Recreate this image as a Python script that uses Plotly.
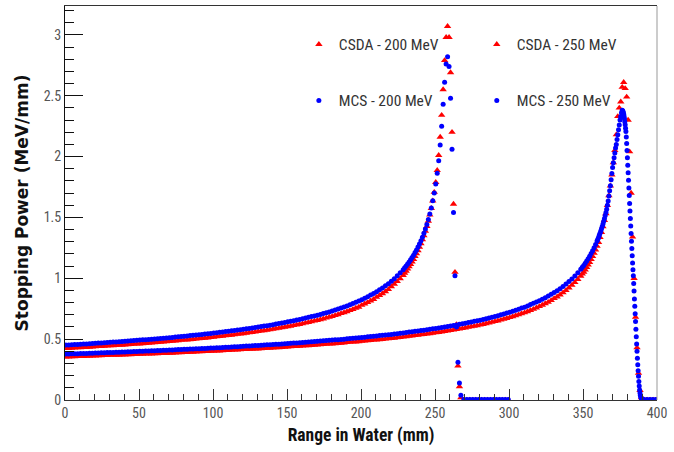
import numpy as np
import plotly.graph_objects as go

# ---------------------------------------------------------------------------
# Depth grids (bin centres in mm)
# ---------------------------------------------------------------------------
depth_200 = np.concatenate([np.arange(0.5, 229, 2), np.arange(229.5, 268, 1), np.arange(269.5, 300, 2)])
depth_250_csda = np.concatenate([np.arange(0.5, 349, 2), np.arange(349.5, 391, 1), np.arange(391.5, 400, 2)])
depth_250_mcs = np.concatenate([np.arange(0.5, 349, 2), np.arange(349.5, 360, 1), np.arange(360.0, 376.6, 0.5),
                                np.arange(376.75, 390.1, 0.25), np.arange(391, 400, 2)])

# ---------------------------------------------------------------------------
# Stopping power (MeV/mm)
# ---------------------------------------------------------------------------
mcs_200 = [
    0.451, 0.452, 0.454, 0.455, 0.457, 0.458, 0.460, 0.461, 0.463, 0.464,
    0.466, 0.468, 0.469, 0.471, 0.472, 0.474, 0.476, 0.477, 0.479, 0.480,
    0.482, 0.484, 0.486, 0.488, 0.490, 0.492, 0.494, 0.496, 0.498, 0.500,
    0.502, 0.504, 0.506, 0.508, 0.510, 0.512, 0.514, 0.517, 0.519, 0.522,
    0.524, 0.526, 0.529, 0.531, 0.534, 0.536, 0.539, 0.542, 0.544, 0.547,
    0.550, 0.553, 0.556, 0.559, 0.562, 0.565, 0.568, 0.571, 0.575, 0.578,
    0.581, 0.585, 0.588, 0.592, 0.595, 0.599, 0.603, 0.607, 0.611, 0.615,
    0.619, 0.624, 0.628, 0.633, 0.637, 0.642, 0.647, 0.652, 0.657, 0.662,
    0.667, 0.673, 0.679, 0.685, 0.691, 0.697, 0.703, 0.710, 0.717, 0.724,
    0.731, 0.739, 0.747, 0.756, 0.764, 0.773, 0.783, 0.793, 0.803, 0.813,
    0.824, 0.836, 0.849, 0.862, 0.875, 0.889, 0.905, 0.921, 0.938, 0.956,
    0.976, 0.997, 1.020, 1.045, 1.071,
    1.086, 1.101, 1.117, 1.134, 1.152, 1.170, 1.189, 1.211, 1.232, 1.256,
    1.282, 1.309, 1.338, 1.369, 1.404, 1.441, 1.482, 1.528, 1.578, 1.636,
    1.700, 1.775, 1.863, 1.966, 2.094, 2.25, 2.43, 2.61, 2.76, 2.82,
    2.74, 2.48, 2.06, 1.54, 1.02, 0.60, 0.31, 0.14, 0.04,
    0.005, 0.005, 0.005, 0.005, 0.005, 0.005, 0.005, 0.005,
    0.005, 0.005, 0.005, 0.005, 0.005, 0.005, 0.005, 0.005,
]

csda_200 = [
    0.424, 0.425, 0.427, 0.428, 0.430, 0.431, 0.432, 0.433, 0.435, 0.436,
    0.438, 0.440, 0.441, 0.443, 0.444, 0.446, 0.447, 0.448, 0.450, 0.451,
    0.453, 0.455, 0.457, 0.459, 0.461, 0.462, 0.464, 0.466, 0.468, 0.470,
    0.472, 0.474, 0.476, 0.478, 0.479, 0.481, 0.483, 0.486, 0.488, 0.491,
    0.493, 0.494, 0.497, 0.499, 0.502, 0.504, 0.507, 0.509, 0.511, 0.514,
    0.517, 0.520, 0.523, 0.525, 0.528, 0.531, 0.534, 0.537, 0.541, 0.543,
    0.546, 0.550, 0.553, 0.556, 0.559, 0.563, 0.567, 0.571, 0.574, 0.578,
    0.582, 0.587, 0.590, 0.595, 0.599, 0.603, 0.608, 0.613, 0.618, 0.622,
    0.627, 0.633, 0.638, 0.644, 0.650, 0.655, 0.661, 0.667, 0.674, 0.681,
    0.687, 0.695, 0.702, 0.711, 0.718, 0.727, 0.736, 0.745, 0.755, 0.764,
    0.779, 0.790, 0.802, 0.815, 0.827, 0.845, 0.860, 0.875, 0.891, 0.908,
    0.932, 0.952, 0.974, 0.998, 1.023,
    1.043, 1.059, 1.077, 1.095, 1.115, 1.135, 1.156, 1.180, 1.202, 1.228,
    1.256, 1.285, 1.317, 1.350, 1.387, 1.427, 1.470, 1.520, 1.575, 1.636,
    1.707, 1.789, 1.887, 2.01, 2.16, 2.34, 2.55, 2.79, 2.98, 3.07,
    2.98, 2.69, 2.20, 1.61, 1.05, 0.62, 0.28, 0.11, 0.02,
    0.0, 0.0, 0.0, 0.0, 0.0, 0.0, 0.0, 0.0,
    0.0, 0.0, 0.0, 0.0, 0.0, 0.0, 0.0, 0.0,
]

mcs_250 = [
    0.378, 0.378, 0.379, 0.380, 0.381, 0.382, 0.382, 0.383, 0.384, 0.385,
    0.386, 0.387, 0.388, 0.389, 0.390, 0.391, 0.391, 0.392, 0.393, 0.394,
    0.395, 0.396, 0.397, 0.398, 0.399, 0.400, 0.401, 0.402, 0.403, 0.404,
    0.405, 0.406, 0.407, 0.408, 0.409, 0.410, 0.411, 0.413, 0.414, 0.415,
    0.416, 0.417, 0.418, 0.419, 0.421, 0.422, 0.423, 0.424, 0.426, 0.427,
    0.428, 0.429, 0.430, 0.432, 0.433, 0.434, 0.436, 0.437, 0.438, 0.440,
    0.441, 0.443, 0.444, 0.445, 0.447, 0.448, 0.450, 0.451, 0.453, 0.454,
    0.456, 0.458, 0.459, 0.461, 0.462, 0.464, 0.466, 0.468, 0.469, 0.471,
    0.473, 0.475, 0.476, 0.478, 0.480, 0.482, 0.484, 0.486, 0.488, 0.490,
    0.492, 0.494, 0.496, 0.498, 0.500, 0.503, 0.505, 0.507, 0.509, 0.511,
    0.514, 0.516, 0.519, 0.521, 0.524, 0.526, 0.529, 0.531, 0.534, 0.537,
    0.539, 0.542, 0.545, 0.548, 0.551, 0.554, 0.558, 0.561, 0.564, 0.567,
    0.571, 0.574, 0.578, 0.581, 0.585, 0.588, 0.592, 0.596, 0.600, 0.604,
    0.608, 0.613, 0.617, 0.622, 0.626, 0.631, 0.636, 0.641, 0.646, 0.651,
    0.656, 0.662, 0.668, 0.674, 0.680, 0.686, 0.693, 0.700, 0.707, 0.714,
    0.721, 0.729, 0.738, 0.746, 0.755, 0.763, 0.773, 0.784, 0.794, 0.805,
    0.816, 0.828, 0.841, 0.854, 0.868, 0.883, 0.897, 0.914, 0.933, 0.952,
    0.973, 0.995, 1.019, 1.046, 1.074,
    1.090, 1.106, 1.124, 1.142, 1.161, 1.181, 1.203, 1.226, 1.251, 1.277, 1.306,
    1.320, 1.336, 1.353, 1.370, 1.388, 1.406, 1.426, 1.446, 1.468, 1.491,
    1.515, 1.540, 1.567, 1.600, 1.635, 1.675, 1.72, 1.76, 1.81, 1.86,
    1.91, 1.95, 1.99, 2.03, 2.07, 2.10, 2.14, 2.18, 2.22, 2.26,
    2.30, 2.33, 2.36, 2.38,
    2.377, 2.370, 2.360, 2.347, 2.330, 2.310, 2.287, 2.261, 2.232, 2.205,
    2.160, 2.108, 2.050, 1.990, 1.928, 1.866, 1.805, 1.742, 1.680, 1.615,
    1.553, 1.492, 1.430, 1.368, 1.305, 1.245, 1.185, 1.125, 1.070, 1.020,
    0.958, 0.895, 0.830, 0.770, 0.708, 0.645, 0.582, 0.520, 0.460, 0.400,
    0.343, 0.290, 0.240, 0.195, 0.153, 0.115, 0.083, 0.058, 0.040, 0.027,
    0.018, 0.012, 0.008, 0.005,
    0.005, 0.005, 0.005, 0.005, 0.005,
]

csda_250 = [
    0.355, 0.355, 0.356, 0.357, 0.358, 0.359, 0.359, 0.360, 0.361, 0.362,
    0.363, 0.364, 0.365, 0.366, 0.367, 0.368, 0.368, 0.368, 0.369, 0.370,
    0.371, 0.372, 0.373, 0.374, 0.375, 0.376, 0.377, 0.378, 0.379, 0.380,
    0.381, 0.382, 0.383, 0.384, 0.384, 0.385, 0.386, 0.388, 0.389, 0.390,
    0.391, 0.392, 0.393, 0.394, 0.396, 0.397, 0.398, 0.399, 0.400, 0.401,
    0.402, 0.403, 0.404, 0.406, 0.407, 0.408, 0.410, 0.411, 0.412, 0.414,
    0.415, 0.416, 0.417, 0.418, 0.420, 0.421, 0.423, 0.424, 0.426, 0.427,
    0.429, 0.431, 0.431, 0.433, 0.434, 0.436, 0.438, 0.440, 0.441, 0.443,
    0.445, 0.447, 0.447, 0.449, 0.451, 0.453, 0.455, 0.457, 0.459, 0.461,
    0.462, 0.464, 0.466, 0.468, 0.470, 0.473, 0.475, 0.477, 0.478, 0.480,
    0.483, 0.485, 0.488, 0.490, 0.493, 0.494, 0.497, 0.499, 0.502, 0.505,
    0.507, 0.509, 0.512, 0.515, 0.518, 0.521, 0.525, 0.527, 0.530, 0.533,
    0.537, 0.540, 0.543, 0.546, 0.550, 0.553, 0.556, 0.560, 0.564, 0.568,
    0.572, 0.576, 0.580, 0.585, 0.588, 0.593, 0.598, 0.603, 0.607, 0.612,
    0.617, 0.622, 0.628, 0.634, 0.639, 0.645, 0.651, 0.658, 0.665, 0.671,
    0.678, 0.685, 0.694, 0.701, 0.710, 0.717, 0.727, 0.737, 0.746, 0.757,
    0.769, 0.780, 0.792, 0.804, 0.818, 0.834, 0.848, 0.864, 0.882, 0.900,
    0.922, 0.943, 0.966, 0.992, 1.018,
    1.036, 1.051, 1.070, 1.089, 1.110, 1.131, 1.155, 1.179, 1.206, 1.234, 1.264,
    1.296, 1.336, 1.378, 1.424, 1.476, 1.532,
    1.60, 1.68, 1.76, 1.85, 1.95, 2.05, 2.18, 2.33, 2.40, 2.45,
    2.57, 2.61, 2.56, 2.49, 2.30, 2.04, 1.70, 1.34, 1.00, 0.68,
    0.43, 0.22, 0.08, 0.02, 0.0,
    0.0, 0.0, 0.0, 0.0, 0.0,
]

series_names = ["CSDA - 200 MeV", "CSDA - 250 MeV", "MCS - 200 MeV", "MCS - 250 MeV"]

RED = "#ff0000"
BLUE = "#0000ff"
NARROW = "Roboto Condensed, Liberation Sans, Arial, sans-serif"

fig = go.Figure()

# red CSDA triangles first, blue MCS dots drawn on top
fig.add_trace(go.Scatter(x=depth_200, y=csda_200, mode="markers", name=series_names[0],
                         marker=dict(symbol="triangle-up", size=6.5, color=RED, line=dict(width=0)),
                         legend="legend", legendgroup="c200"))
fig.add_trace(go.Scatter(x=depth_250_csda, y=csda_250, mode="markers", name=series_names[1],
                         marker=dict(symbol="triangle-up", size=6.5, color=RED, line=dict(width=0)),
                         legend="legend2", legendgroup="c250"))
fig.add_trace(go.Scatter(x=depth_200, y=mcs_200, mode="markers", name=series_names[2],
                         marker=dict(symbol="circle", size=5, color=BLUE, line=dict(width=0)),
                         legend="legend", legendgroup="m200"))
fig.add_trace(go.Scatter(x=depth_250_mcs, y=mcs_250, mode="markers", name=series_names[3],
                         marker=dict(symbol="circle", size=5, color=BLUE, line=dict(width=0)),
                         legend="legend2", legendgroup="m250"))

legend_style = dict(
    bgcolor="rgba(0,0,0,0)", borderwidth=0, traceorder="grouped", tracegroupgap=33,
    font=dict(family=NARROW, size=15.5, color="#333"), yanchor="top", xanchor="left",
    itemsizing="trace", indentation=-5,
)

fig.update_layout(
    width=674, height=452,
    margin=dict(l=65, r=17, t=6, b=52),
    paper_bgcolor="white", plot_bgcolor="white",
    showlegend=True,
    legend=dict(x=0.4035, y=0.945, **legend_style),
    legend2=dict(x=0.704, y=0.945, **legend_style),
    xaxis=dict(
        range=[0, 400], showgrid=False, zeroline=False,
        showline=True, linecolor="#333", linewidth=1, mirror=True,
        ticks="inside", ticklen=11, tickwidth=1, tickcolor="#333", dtick=50, tick0=0,
        minor=dict(ticks="inside", ticklen=6, dtick=10, tickcolor="#333", showgrid=False),
        tickfont=dict(family=NARROW, size=14, color="#555"),
        title=dict(text="Range in Water (mm)", standoff=8,
                   font=dict(family=NARROW, size=17.5, weight="bold", color="#111")),
    ),
    yaxis=dict(
        range=[0, 3.237], showgrid=False, zeroline=False,
        showline=True, linecolor="#111", linewidth=1,
        ticks="inside", ticklen=18, tickwidth=1, tickcolor="#111", dtick=0.5, tick0=0,
        minor=dict(ticks="inside", ticklen=9, dtick=0.1, tickcolor="#111", showgrid=False),
        tickfont=dict(family=NARROW, size=14, color="#555"),
        title=dict(text="Stopping Power (MeV/mm)", standoff=10,
                   font=dict(family="DejaVu Sans, sans-serif", size=17, weight="bold", color="#111")),
    ),
    shapes=[dict(type="line", xref="paper", yref="paper", x0=1, x1=1, y0=0, y1=1,
                 line=dict(color="#999", width=1))],
)

fig.write_html("out.html")
